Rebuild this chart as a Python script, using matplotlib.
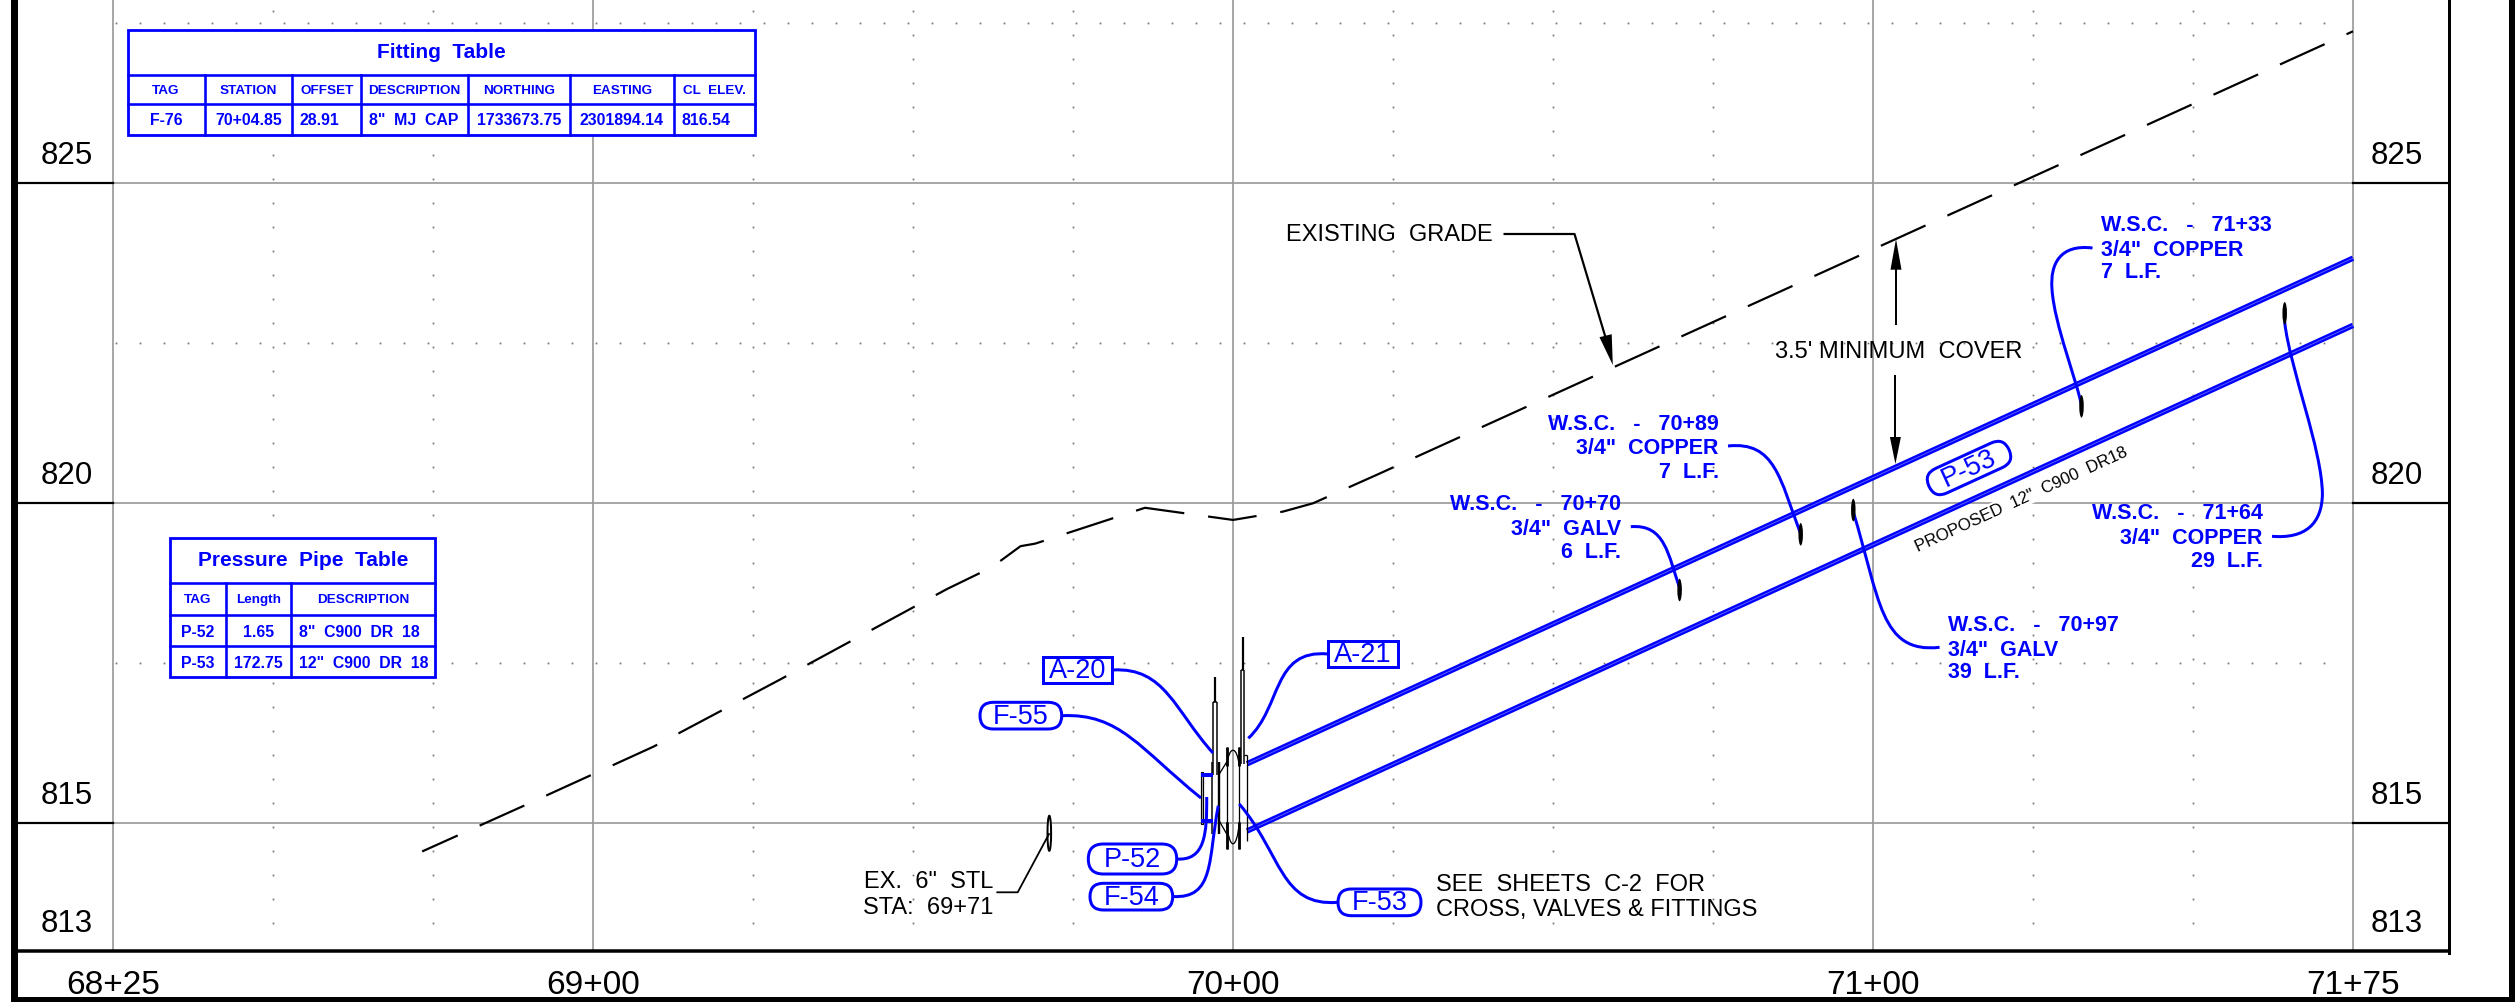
import numpy as np
import matplotlib
matplotlib.use('Agg')
import matplotlib.pyplot as plt
from matplotlib.patches import FancyBboxPatch, PathPatch, Rectangle, Ellipse, Polygon
from matplotlib.path import Path
from matplotlib.transforms import Affine2D

W, H = 2515, 1003
BLUE = '#0000ff'
GRID = '#9a9a9a'
SANS = ['Liberation Sans', 'DejaVu Sans']

plt.rcParams['lines.scale_dashes'] = False
plt.rcParams['font.family'] = SANS

# profile data, station in feet and elevation in feet
station_lines = [6825, 6900, 7000, 7100, 7175]
station_labels = ['68+25', '69+00', '70+00', '71+00', '71+75']
station_dots = [6850, 6875, 6925, 6950, 6975, 7025, 7050, 7075, 7125, 7150]
elev_lines = [815, 820, 825]
elev_dots = [817.5, 822.5, 827.5]
elev_labels = [813, 815, 820, 825]

grade_sta = [6873.3, 6889.1, 6909.5, 6929.3, 6955.3, 6962.3, 6966.8, 6969.1,
             6986.25, 7000.0, 7007.8, 7012.5, 7022.8, 7175.0]
grade_el = [814.56, 815.27, 816.20, 817.25, 818.66, 819.00, 819.33, 819.37,
            819.93, 819.74, 819.87, 820.00, 820.46, 827.375]

pipe_sta = [7002.2, 7175.0]
pipe_top = [815.93, 823.83]
pipe_bot = [814.88, 822.78]

fitting_header = ['TAG', 'STATION', 'OFFSET', 'DESCRIPTION', 'NORTHING', 'EASTING', 'CL  ELEV.']
fitting_row = ['F-76', '70+04.85', '28.91', '8"  MJ  CAP', '1733673.75', '2301894.14', '816.54']
pipe_header = ['TAG', 'Length', 'DESCRIPTION']
pipe_rows = [['P-52', '1.65', '8"  C900  DR  18'],
             ['P-53', '172.75', '12"  C900  DR  18']]


def lw(px):
    return px * 0.72


fig = plt.figure(figsize=(W / 100, H / 100), dpi=100, facecolor='white')

# data axes: 6.4 px per foot across, 64 px per foot up
ax = fig.add_axes([0, 0, 1, 1])
ax.set_xlim(7000 - 1233 / 6.4, 7000 + (W - 1233) / 6.4)
ax.set_ylim(825 - (H - 184.3) / 64, 825 + 184.3 / 64)
ax.axis('off')

for s in station_lines:
    ax.plot([s, s], [813, ax.get_ylim()[1]], color=GRID, lw=lw(1.7), zorder=1)
for e in elev_lines:
    ax.plot([6825, 7175], [e, e], color=GRID, lw=lw(1.7), zorder=1)

# dotted grid
dot_y = 825 - (np.arange(12.3, 930, 24) - 184.3) / 64
dot_x = 7000 + (np.arange(116.3, 2330, 24) - 1233) / 6.4
for s in station_dots:
    ax.plot([s] * len(dot_y), dot_y, ls='none', marker='s', ms=lw(1.7), mew=0, color='#707070', zorder=1)
for e in elev_dots:
    ax.plot(dot_x, [e] * len(dot_x), ls='none', marker='s', ms=lw(1.7), mew=0, color='#707070', zorder=1)

ax.plot(grade_sta, grade_el, color='black', lw=lw(2.2), ls=(7.2, (35.3, 17.3)), dash_capstyle='butt', zorder=3)

for el in (pipe_top, pipe_bot):
    ax.plot(pipe_sta, el, color=BLUE, lw=lw(5.5), solid_capstyle='butt', zorder=3)
    ax.plot(pipe_sta, el, color='#6060ff', lw=lw(0.9), solid_capstyle='butt', zorder=3)

# pixel overlay for sheet frame, tables and callouts
ov = fig.add_axes([0, 0, 1, 1])
ov.set_xlim(0, W)
ov.set_ylim(H, 0)
ov.axis('off')
ov.patch.set_alpha(0)

ov.add_patch(Rectangle((11, 0), 7, H, fc='black', ec='none', zorder=6))
ov.add_patch(Rectangle((2508.5, 0), 6.5, H, fc='black', ec='none', zorder=6))
ov.add_patch(Rectangle((11, 998.3), W - 11, 5, fc='black', ec='none', zorder=6))
ov.plot([18, 2449], [952.3, 952.3], color='black', lw=lw(3.5), zorder=6)
ov.plot([2449, 2449], [0, 953.5], color='black', lw=lw(3), zorder=6)
for py in (184.3, 504.3, 824.3):
    ov.plot([18, 113], [py, py], color='black', lw=lw(2.2), zorder=2)
    ov.plot([2353, 2449], [py, py], color='black', lw=lw(2.2), zorder=2)

for lab in elev_labels:
    py = 184.3 + (825 - lab) * 64 - 28.5
    ov.text(67, py, str(lab), fontsize=22.5, ha='center', va='center', color='black')
    ov.text(2397, py, str(lab), fontsize=22.5, ha='center', va='center', color='black')
for s, lab in zip(station_lines, station_labels):
    ov.text(1233 + (s - 7000) * 6.4, 986, lab, fontsize=24, ha='center', va='center', color='black')


def table(xs, ys):
    ov.add_patch(Rectangle((xs[0], ys[0]), xs[-1] - xs[0], ys[-1] - ys[0], fc='white', ec=BLUE, lw=lw(2.8), zorder=4))
    for y in ys[1:-1]:
        ov.plot([xs[0], xs[-1]], [y, y], color=BLUE, lw=lw(2.6), zorder=4)
    for x in xs[1:-1]:
        ov.plot([x, x], [ys[1], ys[-1]], color=BLUE, lw=lw(2.6), zorder=4)


def cell(x, y, txt, size=11.4, ha='center'):
    ov.text(x, y, txt, fontweight='bold', fontsize=size, color=BLUE, ha=ha, va='center', zorder=5)


# fitting table
fx = [127.6, 204.6, 292.3, 361.2, 467.9, 569.9, 673.5, 755]
table(fx, [30.7, 75.7, 105, 135.7])
ov.text(441, 52.3, 'Fitting  Table', fontsize=15, color=BLUE, ha='center', va='center',
        fontweight='bold', zorder=5)
for i, txt in enumerate(fitting_header):
    cell((fx[i] + fx[i + 1]) / 2, 90.7, txt, size=9.7)
for i, txt in enumerate(fitting_row):
    if i in (2, 3, 6):
        cell(fx[i] + 7.5, 120.7, txt, ha='left')
    else:
        cell((fx[i] + fx[i + 1]) / 2, 120.7, txt)

# pressure pipe table
px_ = [170, 226, 291.3, 435]
table(px_, [539.3, 584, 616.3, 646.7, 678.3])
ov.text(302.8, 560.7, 'Pressure  Pipe  Table', fontsize=15, color=BLUE, ha='center', va='center',
        fontweight='bold', zorder=5)
for i, txt in enumerate(pipe_header):
    cell((px_[i] + px_[i + 1]) / 2, 600, txt, size=9.7)
for r, yy in zip(pipe_rows, (632.3, 663.3)):
    cell(198, yy, r[0])
    cell(258.6, yy, r[1])
    cell(299, yy, r[2], ha='left')


def leader(pts, color=BLUE, width=3):
    codes = [Path.MOVETO] + [Path.CURVE4] * (len(pts) - 1)
    ov.add_patch(PathPatch(Path(pts, codes), fc='none', ec=color, lw=lw(width), capstyle='butt', zorder=7))


leader([(1113, 671), (1165, 668), (1175, 712), (1213, 754)])
leader([(1062, 716.7), (1120, 714), (1140, 750), (1201, 799)])
leader([(1328, 655), (1272, 650), (1282, 708), (1248.3, 739.3)])
leader([(1176.7, 860), (1205, 862), (1207, 835), (1206.7, 798)])
leader([(1172.7, 897.5), (1215, 900), (1208, 860), (1218.3, 806.7)])
leader([(1338, 903.3), (1280, 908), (1282, 855), (1239.3, 805)])
leader([(1630.8, 527.7), (1665, 525), (1668, 555), (1680.5, 591.7)])
leader([(1728, 447), (1775, 442), (1780, 480), (1800.7, 535)])
leader([(1939.6, 648.3), (1880, 655), (1880, 600), (1852.7, 511)])
leader([(2092.5, 249), (2060, 245), (2050, 265), (2052, 290), (2054, 325), (2078, 385), (2081.5, 406.7)])
leader([(2272, 537.3), (2305, 540), (2322, 525), (2322.4, 495), (2322, 450), (2290, 370), (2284.7, 323.3)])

# service tap blobs
for cx, cy in [(1679.6, 591), (1800.7, 535.3), (1853.3, 511), (2081.5, 407.3), (2284.7, 314.3)]:
    ov.add_patch(Ellipse((cx, cy), 4.5, 22.5, fc='black', ec='none', zorder=8))
ov.add_patch(Ellipse((1049.3, 834.3), 3.6, 35, fc='white', ec='black', lw=lw(2), zorder=3))

# valve cluster at 70+00
blk = dict(color='black', zorder=3, solid_capstyle='butt')
ov.plot([1213.3, 1213.3], [703, 776], lw=lw(1.5), **blk)
ov.plot([1216.8, 1216.8], [703, 776], lw=lw(1.5), **blk)
ov.plot([1213.3, 1216.8], [703, 703], lw=lw(1.5), **blk)
ov.plot([1215, 1215], [678, 703], lw=lw(2.2), **blk)
ov.plot([1240.7, 1240.7], [670.7, 765], lw=lw(1.5), **blk)
ov.plot([1244.3, 1244.3], [670.7, 765], lw=lw(1.5), **blk)
ov.plot([1240.7, 1244.3], [670.7, 670.7], lw=lw(1.5), **blk)
ov.plot([1242.5, 1242.5], [638, 670.7], lw=lw(2.2), **blk)
ov.add_patch(Rectangle((1200.5, 773), 2.8, 52, fc='#c8c8c8', ec='black', lw=lw(1.2), zorder=3))
ov.plot([1212.3, 1212.3], [763, 835], lw=lw(1.5), **blk)
ov.plot([1219.3, 1219.3], [763, 835], lw=lw(2.4), **blk)
ov.plot([1226.7, 1226.7], [748, 850], lw=lw(1.3), **blk)
ov.plot([1239.3, 1239.3], [748, 850], lw=lw(1.3), **blk)
ov.plot([1226.7, 1226.7], [748, 767], lw=lw(2.8), **blk)
ov.plot([1226.7, 1226.7], [823, 850], lw=lw(2.8), **blk)
ov.plot([1239.3, 1239.3], [748, 767], lw=lw(2.8), **blk)
ov.plot([1239.3, 1239.3], [823, 850], lw=lw(2.8), **blk)
ov.plot([1246.7, 1246.7], [756, 841.7], lw=lw(1.3), **blk)
ov.plot([1219.3, 1226.7], [775, 763], lw=lw(1.3), **blk)
ov.plot([1219.3, 1226.7], [822, 835], lw=lw(1.3), **blk)
ov.plot([1244.3, 1246.7], [756, 756], lw=lw(1.3), **blk)
for y0, y1 in ((767, 746), (823, 852)):
    codes = [Path.MOVETO, Path.CURVE4, Path.CURVE4, Path.CURVE4]
    ov.add_patch(PathPatch(Path([(1226.7, y0), (1229, y1), (1237, y1), (1239.3, y0)], codes),
                           fc='none', ec='black', lw=lw(1.3), zorder=3))
for y in (775.7, 821.7):
    ov.plot([1201, 1213], [y, y], color=BLUE, lw=lw(4), solid_capstyle='butt', zorder=5)


def pill(x0, x1, y0, y1, txt, size=19.5):
    h = y1 - y0
    ov.add_patch(FancyBboxPatch((x0, y0), x1 - x0, h, boxstyle=f'round,pad=0,rounding_size={h / 2}',
                                fc='white', ec=BLUE, lw=lw(3), zorder=8))
    ov.text((x0 + x1) / 2, (y0 + y1) / 2, txt, fontsize=size, color=BLUE, ha='center', va='center', zorder=9)


def boxed(x0, x1, y0, y1, txt, size=19.5):
    ov.add_patch(Rectangle((x0, y0), x1 - x0, y1 - y0, fc='white', ec=BLUE, lw=lw(3), zorder=8))
    ov.text((x0 + x1) / 2, (y0 + y1) / 2, txt, fontsize=size, color=BLUE, ha='center', va='center', zorder=9)


boxed(1042.7, 1112.3, 657.7, 684, 'A-20')
boxed(1328, 1398, 642.3, 668.3, 'A-21')
pill(980, 1061.7, 703.3, 730, 'F-55')
pill(1088.3, 1176.7, 845, 875, 'P-52')
pill(1090, 1172.7, 884.3, 911, 'F-54')
pill(1338, 1421, 890, 916.7, 'F-53')

# P-53 pill sits along the pipe
ang = 24.6
cx, cy, L, h = 1969, 469, 88, 27
rot = Affine2D().rotate_deg_around(cx, cy, -ang) + ov.transData
ov.add_patch(FancyBboxPatch((cx - L / 2, cy - h / 2), L, h, boxstyle=f'round,pad=0,rounding_size={h / 2}',
                            fc='white', ec=BLUE, lw=lw(3), transform=rot, zorder=8))
ov.text(cx, cy, 'P-53', fontsize=19.5, color=BLUE, rotation=ang, rotation_mode='anchor',
        ha='center', va='center', zorder=9)
ov.text(2021, 500, 'PROPOSED  12"  C900  DR18', fontsize=12.2, color='black', rotation=ang, rotation_mode='anchor',
        ha='center', va='center', zorder=2.5,
        bbox=dict(fc='white', ec='none', pad=1))


def wsc(x, ys, lines, ha):
    for y, t in zip(ys, lines):
        ov.text(x, y, t, fontsize=15.5, fontweight='bold', color=BLUE, ha=ha, va='center', zorder=5)


wsc(1718.8, (424, 449, 472), ['W.S.C.   -   70+89', '3/4"  COPPER', '7  L.F.'], 'right')
wsc(1621.2, (505, 529.3, 552.7), ['W.S.C.   -   70+70', '3/4"  GALV', '6  L.F.'], 'right')
wsc(1948.4, (625.7, 650, 673), ['W.S.C.   -   70+97', '3/4"  GALV', '39  L.F.'], 'left')
wsc(2101, (225.7, 250.7, 272.7), ['W.S.C.   -   71+33', '3/4"  COPPER', '7  L.F.'], 'left')
wsc(2262.7, (513.3, 538.3, 561.7), ['W.S.C.   -   71+64', '3/4"  COPPER', '29  L.F.'], 'right')


def arrow(tip, base, half=5.5):
    dx, dy = tip[0] - base[0], tip[1] - base[1]
    n = np.hypot(dx, dy)
    nx, ny = -dy / n * half, dx / n * half
    ov.add_patch(Polygon([tip, (base[0] + nx, base[1] + ny), (base[0] - nx, base[1] - ny)],
                         fc='black', ec='none', zorder=6))


def note(x, y, txt, ha='left', size=17):
    ov.text(x, y, txt, fontsize=size, color='black', ha=ha, va='center', zorder=5)


note(1286, 235, 'EXISTING  GRADE')
ov.plot([1504.6, 1574.5, 1606], [235, 235, 340], color='black', lw=lw(2.2), zorder=5)
arrow((1612.8, 366), (1605.6, 336.7), half=6.3)

note(1775, 351.7, "3.5' MINIMUM  COVER")
ov.plot([1896, 1896], [325, 268], color='black', lw=lw(2), zorder=5)
arrow((1896, 240), (1896, 270.7))
ov.plot([1895.4, 1895.4], [376.7, 440], color='black', lw=lw(2), zorder=5)
arrow((1895.4, 465), (1895.4, 438))

note(993, 882, 'EX.  6"  STL', ha='right', size=17)
note(993, 908.5, 'STA:  69+71', ha='right', size=17)
ov.plot([997.3, 1017.7, 1049], [893.3, 893.3, 835], color='black', lw=lw(1.8), zorder=5)

note(1436, 885, 'SEE  SHEETS  C-2  FOR')
note(1436, 910, 'CROSS, VALVES & FITTINGS')

fig.savefig('out.png', dpi=100, facecolor='white')
